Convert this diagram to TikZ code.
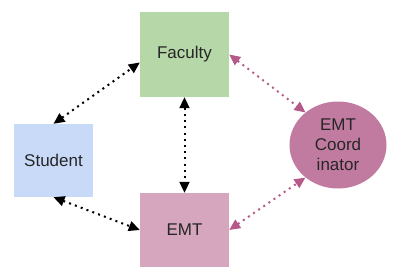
\documentclass[tikz,border=0pt]{standalone}
\usepackage{fontspec}
\setmainfont{Liberation Sans}
\usetikzlibrary{arrows.meta,shapes.geometric}
\definecolor{facg}{HTML}{B6D7A8}
\definecolor{stub}{HTML}{C9DAF8}
\definecolor{emtp}{HTML}{D5A6BD}
\definecolor{coordp}{HTML}{C27BA0}
\definecolor{arrp}{HTML}{B5598A}
\tikzset{
  box/.style={rectangle, inner sep=0pt, font=\fontsize{17}{20}\selectfont, text=black!85},
  dotarrow/.style={line width=2pt, dash pattern=on 2pt off 4.2pt, {Triangle[length=11pt,width=10pt]}-{Triangle[length=11pt,width=10pt]}},
}
\begin{document}
\begin{tikzpicture}[x=1pt,y=-1pt]
\useasboundingbox (0,0) rectangle (400,276);
\node[box, fill=facg, minimum width=89pt, minimum height=85pt] (fac) at (184.5,54.5) {Faculty};
\node[box, fill=stub, minimum width=79pt, minimum height=73pt] (stu) at (53.5,160.5) {Student};
\node[box, fill=emtp, minimum width=89pt, minimum height=74pt] (emt) at (184.5,230) {EMT};
\node[ellipse, fill=coordp, inner sep=0pt, minimum width=97pt, minimum height=87pt, font=\fontsize{17}{20}\selectfont, text=black!85, align=center] (crd) at (338,145) {EMT\\Coord\\inator};
\draw[dotarrow, black] (stu.north) -- ([yshift=-8pt]fac.west);
\draw[dotarrow, black] (fac.south) -- (emt.north);
\draw[dotarrow, black] (stu.south) -- (emt.west);
\draw[dotarrow, arrp] (fac.east) -- (crd.135);
\draw[dotarrow, arrp] (emt.east) -- (crd.225);
\end{tikzpicture}
\end{document}
